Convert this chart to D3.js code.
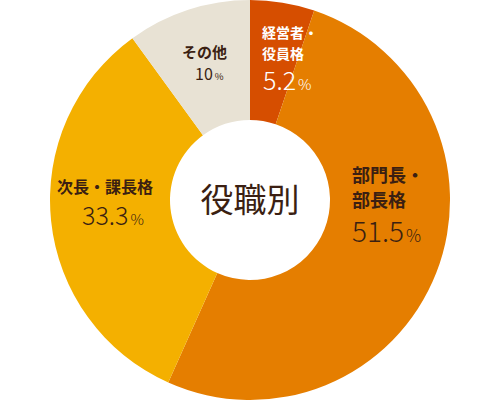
<!DOCTYPE html>
<html><head><meta charset="utf-8">
<script src="https://cdn.jsdelivr.net/npm/d3@7"></script>
<style>body{margin:0;background:#fff}svg{display:block}</style>
</head><body>
<svg id="c" width="500" height="400"></svg>
<script>
const categories = ["経営者・役員格", "部門長・部長格", "次長・課長格", "その他"];
const labelLines = [["経営者・", "役員格"], ["部門長・", "部長格"], ["次長・課長格"], ["その他"]];
const values = [5.2, 51.5, 33.3, 10];
const valueLabels = ["5.2", "51.5", "33.3", "10"];
const centerTitle = "役職別";

const colors = ["#d64e00", "#e57e00", "#f4b000", "#e8e2d4"];
const textColors = ["#ffffff", "#3b1f12", "#3b1f12", "#3b1f12"];
const layout = [
  {x: 262, y: 38, gap: 21, nf: 14, vy: 90, vf: 25, vx: 263, w: 300},
  {x: 352, y: 182, gap: 25, nf: 18, vy: 242, vf: 28, vx: 352, w: 300},
  {x: 57, y: 193, gap: 0, nf: 16, vy: 225, vf: 25, vx: 82, w: 300},
  {x: 182, y: 58, gap: 0, nf: 15, vy: 80, vf: 16, vx: 195, w: 400}
];

const svg = d3.select("#c");
const cx = 250, cy = 200, R = 200, r = 80;
const g = svg.append("g").attr("transform", `translate(${cx},${cy})`);
const pie = d3.pie().sort(null).value(d => d);
const arc = d3.arc().innerRadius(r).outerRadius(R);
const arcs = pie(values);
g.selectAll("path").data(arcs).join("path")
  .attr("d", arc).attr("fill", (d, i) => colors[i]);

const font = "'Noto Sans CJK JP','Noto Sans',sans-serif";
arcs.forEach((a, i) => {
  const L = layout[i];
  labelLines[i].forEach((t, j) => {
    svg.append("text").attr("x", L.x).attr("y", L.y + j * L.gap)
      .attr("font-family", font).attr("font-weight", "bold")
      .attr("font-size", L.nf).attr("fill", textColors[i]).text(t);
  });
  const v = svg.append("text").attr("x", L.vx).attr("y", L.vy)
    .attr("font-family", font).attr("font-weight", L.w)
    .attr("font-size", L.vf).attr("fill", textColors[i]);
  v.append("tspan").text(valueLabels[i]);
  v.append("tspan").attr("font-size", L.vf * 0.6).attr("dx", 2).text("%");
});

svg.append("text").attr("x", cx).attr("y", cy + 12).attr("text-anchor", "middle")
  .attr("font-family", font).attr("font-size", 33).attr("fill", "#3b1f12").text(centerTitle);
</script>
</body></html>
